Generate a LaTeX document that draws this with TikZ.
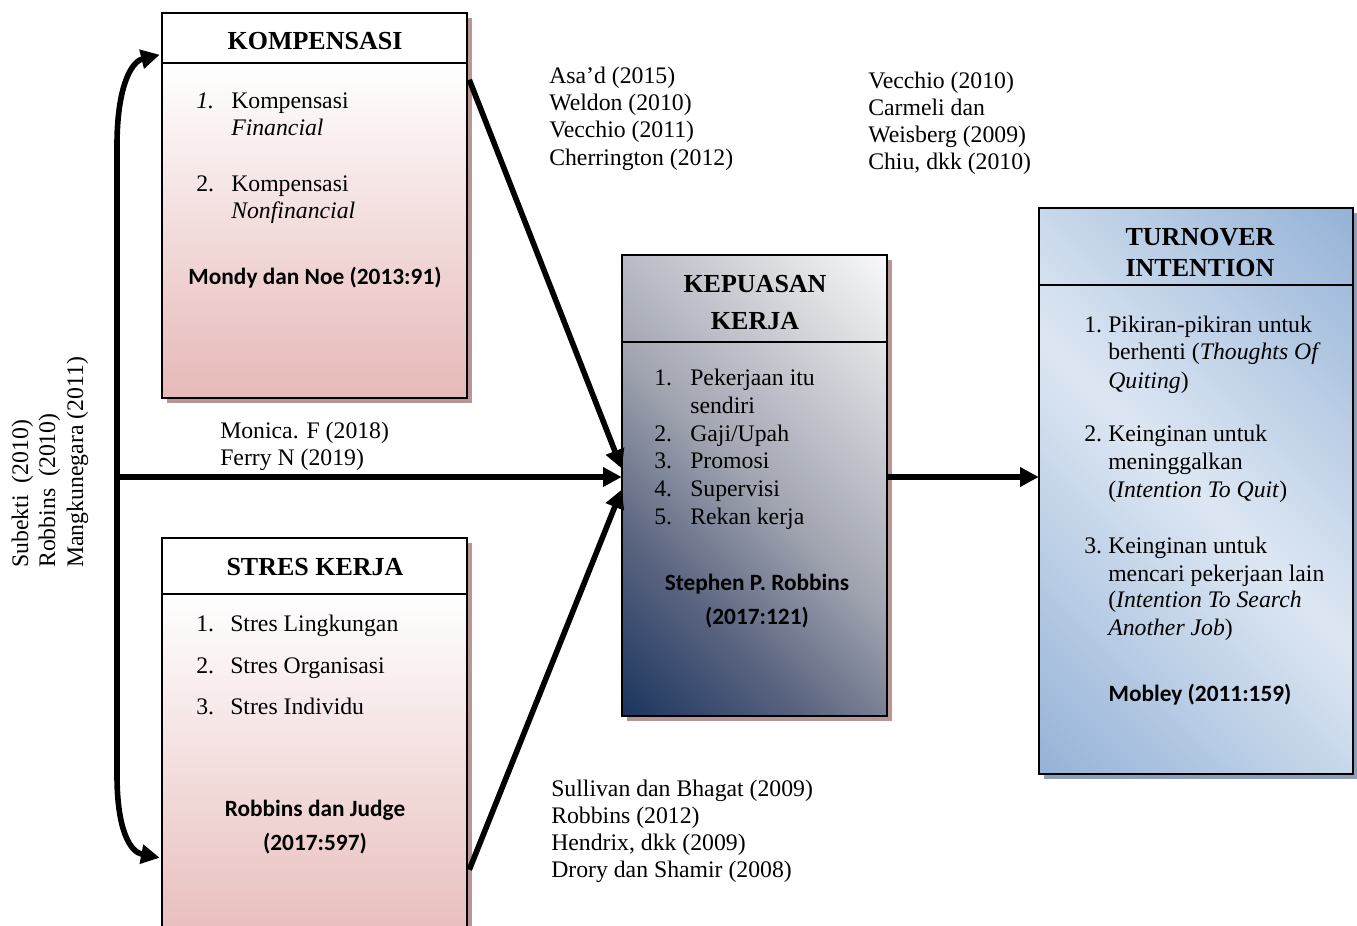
\documentclass[tikz,border=0pt]{standalone}
\usepackage{fontspec}
\setmainfont{Liberation Serif}
\newfontfamily\calibfont{Carlito}
\usetikzlibrary{arrows.meta,fit,calc}
\definecolor{kpink}{RGB}{230,185,184}
\definecolor{kshadow}{RGB}{185,150,150}
\definecolor{tshadow}{RGB}{140,160,185}
\definecolor{knavy}{RGB}{28,54,96}
\definecolor{kdarkb}{RGB}{88,98,126}
\definecolor{kmid}{RGB}{160,164,176}
\definecolor{tblue}{RGB}{149,179,215}
\definecolor{tlight}{RGB}{221,231,243}
\pgfdeclarehorizontalshading{kepshade}{100bp}{color(0bp)=(knavy); color(15bp)=(knavy); color(32bp)=(kdarkb); color(50bp)=(kmid); color(88bp)=(white); color(100bp)=(white)}
\pgfdeclarehorizontalshading{turnshade}{100bp}{color(0bp)=(tblue); color(15bp)=(tblue); color(50bp)=(tlight); color(85bp)=(tblue); color(100bp)=(tblue)}
\begin{document}
\begin{tikzpicture}[x=0.75pt,y=-0.75pt,
  every node/.style={inner sep=0pt, font=\fontsize{17.8}{20.5}\selectfont},
  boxline/.style={line width=1.8pt},
  headline/.style={line width=0.9pt},
  conn/.style={line width=4.2pt, -{Triangle[length=14pt,width=14pt]}},
  ttl/.style={anchor=base, font=\fontsize{19.5}{22}\selectfont\bfseries},
  src/.style={anchor=base, font=\fontsize{17.5}{20}\selectfont\calibfont\bfseries},
  lft/.style={anchor=base west}]
\useasboundingbox (0,0) rectangle (1357,925);
\fill[white] (0,0) rectangle (1357,925);
\clip (0,0) rectangle (1357,925);

% ---------- KOMPENSASI ----------
\fill[kshadow] (167,18) rectangle (472,403);
\fill[white] (162,13) rectangle (467,63);
\shade[top color=white, bottom color=kpink] (162,63) rectangle (467,398);
\draw[headline] (162,63) -- (467,63);
\draw[boxline] (162,13) rectangle (467,398);
\node[fit={(162,13)(467,398)}] (komp) {};
\node[ttl] (kompT) at (315,49) {KOMPENSASI};
\node[lft] (kp1n) at (196,108) {\textit{1.}};
\node[lft] (kp1a) at (231,108) {Kompensasi};
\node[lft] (kp1b) at (231,135) {\textit{Financial}};
\node[lft] (kp2n) at (196,191) {2.};
\node[lft] (kp2a) at (231,191) {Kompensasi};
\node[lft] (kp2b) at (231,218) {\textit{Nonfinancial}};
\node[src] (kpS) at (315,284) {Mondy dan Noe (2013:91)};

% ---------- STRES KERJA ----------
\fill[kshadow] (167,543) rectangle (472,970);
\fill[white] (162,538) rectangle (467,594);
\shade[top color=white, bottom color=kpink] (162,594) rectangle (467,960);
\draw[headline] (162,594) -- (467,594);
\draw[boxline] (162,538) rectangle (467,960);
\node[fit={(162,538)(467,960)}] (stres) {};
\node[ttl] (stresT) at (315,575) {STRES KERJA};
\node[lft] (st1n) at (196,631) {1.};
\node[lft] (st1t) at (230,631) {Stres Lingkungan};
\node[lft] (st2n) at (196,673) {2.};
\node[lft] (st2t) at (230,673) {Stres Organisasi};
\node[lft] (st3n) at (196,714) {3.};
\node[lft] (st3t) at (230,714) {Stres Individu};
\node[src] (stS1) at (315,816) {Robbins dan Judge};
\node[src] (stS2) at (315,850) {(2017:597)};

% ---------- KEPUASAN KERJA ----------
\fill[kshadow] (627,260) rectangle (892,721);
\shade[shading=kepshade, shading angle=45] (622,255) rectangle (887,716);
\draw[headline] (622,342) -- (887,342);
\draw[boxline] (622,255) rectangle (887,716);
\node[fit={(622,255)(887,716)}] (kep) {};
\node[ttl] (kepT1) at (755,292) {KEPUASAN};
\node[ttl] (kepT2) at (755,329) {KERJA};
\node[lft] (kq1n) at (654,385) {1.};
\node[lft] (kq1a) at (690,385) {Pekerjaan itu};
\node[lft] (kq1b) at (690,413) {sendiri};
\node[lft] (kq2n) at (654,441) {2.};
\node[lft] (kq2t) at (690,441) {Gaji/Upah};
\node[lft] (kq3n) at (654,468) {3.};
\node[lft] (kq3t) at (690,468) {Promosi};
\node[lft] (kq4n) at (654,496) {4.};
\node[lft] (kq4t) at (690,496) {Supervisi};
\node[lft] (kq5n) at (654,524) {5.};
\node[lft] (kq5t) at (690,524) {Rekan kerja};
\node[src] (kqS1) at (757,590) {Stephen P. Robbins};
\node[src] (kqS2) at (757,624) {(2017:121)};

% ---------- TURNOVER INTENTION ----------
\fill[tshadow] (1044,213) rectangle (1360,779);
\shade[shading=turnshade, shading angle=45] (1039,208) rectangle (1353,774);
\draw[headline] (1039,285) -- (1353,285);
\draw[boxline] (1039,208) rectangle (1353,774);
\node[fit={(1039,208)(1353,774)}] (turn) {};
\node[ttl] (turnT1) at (1200,245) {TURNOVER};
\node[ttl] (turnT2) at (1200,276) {INTENTION};
\node[lft] (tu1n) at (1084,332) {1.};
\node[lft] (tu1a) at (1108,332) {Pikiran-pikiran untuk};
\node[lft] (tu1b) at (1108,359) {berhenti (\textit{Thoughts Of}};
\node[lft] (tu1c) at (1108,388) {\textit{Quiting})};
\node[lft] (tu2n) at (1084,441) {2.};
\node[lft] (tu2a) at (1108,441) {Keinginan untuk};
\node[lft] (tu2b) at (1108,469) {meninggalkan};
\node[lft] (tu2c) at (1108,497) {(\textit{Intention To Quit})};
\node[lft] (tu3n) at (1084,553) {3.};
\node[lft] (tu3a) at (1108,553) {Keinginan untuk};
\node[lft] (tu3b) at (1108,581) {mencari pekerjaan lain};
\node[lft] (tu3c) at (1108,607) {(\textit{Intention To Search}};
\node[lft] (tu3d) at (1108,635) {\textit{Another Job})};
\node[src] (tuS) at (1200,701) {Mobley (2011:159)};

% ---------- reference texts ----------
\node[lft] (ra1) at (549,83) {Asa’d (2015)};
\node[lft] (ra2) at (549,110) {Weldon (2010)};
\node[lft] (ra3) at (549,137) {Vecchio (2011)};
\node[lft] (ra4) at (549,165) {Cherrington (2012)};
\node[lft] (rb1) at (868,88) {Vecchio (2010)};
\node[lft] (rb2) at (868,115) {Carmeli dan};
\node[lft] (rb3) at (868,142) {Weisberg (2009)};
\node[lft] (rb4) at (868,169) {Chiu, dkk (2010)};
\node[lft] (rc1) at (220,438) {Monica. F (2018)};
\node[lft] (rc2) at (220,465) {Ferry N (2019)};
\node[lft] (rd1) at (551,796) {Sullivan dan Bhagat (2009)};
\node[lft] (rd2) at (551,823) {Robbins (2012)};
\node[lft] (rd3) at (551,850) {Hendrix, dkk (2009)};
\node[lft] (rd4) at (551,877) {Drory dan Shamir (2008)};
\node[rotate=90, lft] (re1) at (28,568) {Subekti\ \ (2010)};
\node[rotate=90, lft] (re2) at (55,568) {Robbins\ \ (2010)};
\node[rotate=90, lft] (re3) at (83,568) {Mangkunegara (2011)};

% ---------- connectors ----------
\coordinate (bx) at (117,477);
\coordinate (kin) at ($(komp.north west)+(-2,42)$);
\coordinate (sin) at ($(stres.north west)+(-2,320)$);
\draw[line width=4.2pt, {Triangle[length=14pt,width=14pt]}-{Triangle[length=14pt,width=14pt]}]
  (kin) .. controls (130,62) and (117,90) .. (117,145) -- (117,775)
  .. controls (117,830) and (130,852) .. (sin);
\draw[conn] (bx) -- (kep.west |- bx);
\draw[conn] ($(komp.north east)+(2,67)$) -- ($(kep.west)+(0,-17)$);
\draw[conn] ($(stres.north east)+(2,332)$) -- ($(kep.west)+(0,4)$);
\draw[conn] (kep.east |- bx) -- (turn.west |- bx);
\end{tikzpicture}
\end{document}
